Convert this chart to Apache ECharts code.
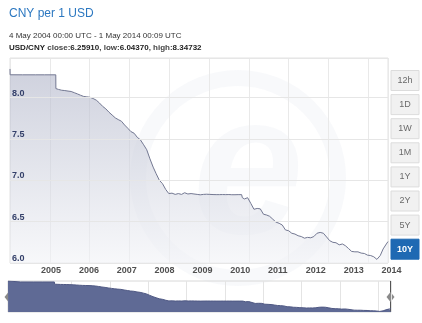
<!DOCTYPE html>
<html>
<head>
<meta charset="utf-8">
<style>
  html, body { margin: 0; padding: 0; background: #ffffff; }
  #chart { width: 422px; height: 323px; }
</style>
<script src="https://cdn.jsdelivr.net/npm/echarts@6/dist/echarts.min.js"></script>
</head>
<body>
<div id="chart"></div>
<script>
// USD/CNY daily closing rate, sampled
const dates = [
  '2004-05-04','2004-05-05','2004-09-01','2005-01-03','2005-04-01','2005-07-20','2005-07-21',
  '2005-08-15','2005-09-15','2005-10-15','2005-11-15','2005-12-15',
  '2006-01-15','2006-02-15','2006-03-15','2006-04-15','2006-05-15','2006-06-15',
  '2006-07-15','2006-08-15','2006-09-15','2006-10-15','2006-11-15','2006-12-15',
  '2007-01-15','2007-02-15','2007-03-15','2007-04-15','2007-05-15','2007-06-15',
  '2007-07-15','2007-08-15','2007-09-15','2007-10-15','2007-11-15','2007-12-15',
  '2008-01-15','2008-02-15','2008-03-15','2008-04-15','2008-05-15','2008-06-15',
  '2008-07-15','2008-08-15','2008-09-15','2008-10-15','2008-11-15','2008-12-15',
  '2009-01-15','2009-02-15','2009-03-15','2009-04-15','2009-05-15','2009-06-15',
  '2009-07-15','2009-08-15','2009-09-15','2009-10-15','2009-11-15','2009-12-15',
  '2010-01-15','2010-02-15','2010-03-15','2010-04-15','2010-05-15','2010-06-18',
  '2010-06-25','2010-07-15','2010-08-15','2010-09-15','2010-10-15','2010-11-15','2010-12-15',
  '2011-01-15','2011-02-15','2011-03-15','2011-04-15','2011-05-15','2011-06-15',
  '2011-07-15','2011-08-15','2011-09-15','2011-10-15','2011-11-15','2011-12-15',
  '2012-01-15','2012-02-15','2012-03-15','2012-04-15','2012-05-15','2012-06-15',
  '2012-07-15','2012-08-15','2012-09-15','2012-10-15','2012-11-15','2012-12-15',
  '2013-01-15','2013-02-15','2013-03-15','2013-04-15','2013-05-15','2013-06-15',
  '2013-07-15','2013-08-15','2013-09-15','2013-10-15','2013-11-15','2013-12-15',
  '2014-01-14','2014-02-15','2014-03-15','2014-04-15','2014-05-01'
];
const rates = [
  8.34732, 8.2770, 8.2766, 8.2765, 8.2765, 8.2765, 8.1100,
  8.1000, 8.0900, 8.0860, 8.0800, 8.0750,
  8.0600, 8.0450, 8.0300, 8.0150, 8.0100, 8.0050,
  7.9900, 7.9700, 7.9350, 7.8950, 7.8650, 7.8250,
  7.7900, 7.7550, 7.7350, 7.7150, 7.6700, 7.6300,
  7.5900, 7.5700, 7.5200, 7.4900, 7.4300, 7.3700,
  7.2600, 7.1600, 7.0800, 7.0000, 6.9600, 6.8900,
  6.8400, 6.8450, 6.8300, 6.8400, 6.8300, 6.8500,
  6.8350, 6.8400, 6.8350, 6.8300, 6.8250, 6.8300,
  6.8320, 6.8300, 6.8280, 6.8270, 6.8270, 6.8280,
  6.8270, 6.8280, 6.8260, 6.8260, 6.8270, 6.8270,
  6.7900, 6.7750, 6.7900, 6.7200, 6.6500, 6.6600, 6.6550,
  6.5900, 6.5800, 6.5650, 6.5300, 6.4950, 6.4800,
  6.4600, 6.4000, 6.3900, 6.3600, 6.3500, 6.3300,
  6.3200, 6.3000, 6.3100, 6.3050, 6.3200, 6.3600,
  6.3700, 6.3600, 6.3150, 6.2700, 6.2500, 6.2450,
  6.2200, 6.2300, 6.2100, 6.1750, 6.1400, 6.1350,
  6.1350, 6.1200, 6.1150, 6.0950, 6.0900, 6.0750,
  6.0437, 6.0900, 6.1700, 6.2300, 6.2591
];
const yTicks = { min: 6.0, max: 8.48, step: 0.5 };
const rangeButtons = ['12h', '1D', '1W', '1M', '1Y', '2Y', '5Y', '10Y'];
const activeRange = '10Y';
const periodText = '4 May 2004 00:00 UTC - 1 May 2014 00:09 UTC';
const pairName = 'USD/CNY';
const stats = { close: '6.25910', low: '6.04370', high: '8.34732' };

const FONT = '"Liberation Sans", Arial, sans-serif';
const YEAR = 365 * 24 * 3600 * 1000;
const points = dates.map((d, i) => [d, rates[i]]);
const startDate = dates[0];
const endDate = dates[dates.length - 1];

// range selector buttons on the right
const buttonGraphics = rangeButtons.map((label, i) => {
  const on = label === activeRange;
  const cy = 80.5 + i * 24.1;
  return {
    type: 'group',
    x: 391, y: cy - 10,
    children: [
      { type: 'rect', shape: { x: 0, y: 0, width: 28, height: 20 },
        style: { fill: on ? '#1f69b3' : '#f1f1f1', stroke: on ? '#1f69b3' : '#dcdcdc', lineWidth: 1 } },
      { type: 'text', x: 14, y: 10,
        style: { text: label, fill: on ? '#ffffff' : '#6a6a6a', font: (on ? 'bold ' : '') + '9px ' + FONT,
                 align: 'center', verticalAlign: 'middle' } }
    ]
  };
});

// navigator handles at both ends
const handleGraphics = [8, 390].map(x => ({
  type: 'group', x: x, y: 0,
  children: [
    { type: 'line', shape: { x1: 0.5, y1: 281, x2: 0.5, y2: 312 }, style: { stroke: '#555', lineWidth: 1 } },
    { type: 'polygon', shape: { points: [[-3.5, 297], [0.5, 292], [4.5, 297], [0.5, 302]] },
      style: { fill: '#8a8a8a' } }
  ]
}));

// faint brand mark behind the plot
const markGraphics = [
  { type: 'circle', shape: { cx: 238, cy: 178, r: 100 }, z: -1,
    style: { fill: 'none', stroke: 'rgba(200,205,222,0.13)', lineWidth: 16 } },
  { type: 'text', x: 248, y: 178, z: -1,
    style: { text: 'e', font: 'italic bold 200px ' + FONT, fill: 'rgba(200,205,222,0.13)',
             align: 'center', verticalAlign: 'middle' } }
];

const chart = echarts.init(document.getElementById('chart'), null, { renderer: 'canvas' });
chart.setOption({
  animation: false,
  backgroundColor: '#ffffff',
  title: [
    { text: 'CNY per 1 USD', left: 9, top: 8, padding: 0,
      textStyle: { fontFamily: FONT, fontSize: 12, fontWeight: 'normal', color: '#2b77c0' } },
    { text: periodText, left: 9, top: 32, padding: 0,
      textStyle: { fontFamily: FONT, fontSize: 8, fontWeight: 'normal', color: '#333333' } },
    { text: '{b|' + pairName + '} {n|close:}{v|' + stats.close + '}{n|, low:}{v|' + stats.low +
            '}{n|, high:}{v|' + stats.high + '}',
      left: 9, top: 44, padding: 0,
      textStyle: { fontFamily: FONT, fontSize: 8, color: '#333333',
        rich: {
          b: { fontFamily: FONT, fontSize: 8, fontWeight: 'bold', color: '#222222' },
          n: { fontFamily: FONT, fontSize: 8, color: '#444444' },
          v: { fontFamily: FONT, fontSize: 8, color: '#222222' }
        } } }
  ],
  grid: [
    { left: 10, right: 34, top: 58, height: 205, show: true, borderColor: '#e2e2e2', borderWidth: 1 },
    { left: 8, right: 31, top: 281, height: 31, show: true, borderColor: '#d8d8d8', borderWidth: 1 }
  ],
  xAxis: [
    { type: 'time', gridIndex: 0, min: startDate, max: endDate,
      minInterval: YEAR, maxInterval: YEAR * 1.01,
      axisLine: { show: false }, axisTick: { show: false }, splitLine: { show: false },
      axisLabel: { formatter: '{yyyy}', fontFamily: FONT, fontSize: 9, fontWeight: 'bold', color: '#505050',
                   align: 'left', padding: [0, 0, 0, 6], margin: 3, showMinLabel: false, showMaxLabel: false } },
    // background grid pattern of the plot
    { type: 'value', gridIndex: 0, position: 'top', min: 0, max: 9.497, interval: 1,
      axisLine: { show: false }, axisTick: { show: false }, axisLabel: { show: false },
      splitLine: { show: true, lineStyle: { color: '#e9e9e9', width: 1 } } },
    { type: 'time', gridIndex: 1, min: startDate, max: endDate,
      minInterval: YEAR, maxInterval: YEAR * 1.01,
      axisLine: { show: false }, axisTick: { show: false }, axisLabel: { show: false },
      splitLine: { show: true, lineStyle: { color: '#e4e4e4', width: 1 } } }
  ],
  yAxis: [
    { type: 'value', gridIndex: 0, min: yTicks.min, max: yTicks.max, interval: yTicks.step, z: 6,
      axisLine: { show: false }, axisTick: { show: false },
      splitLine: { lineStyle: { color: '#e6e6e6', width: 1 } },
      axisLabel: { inside: true, margin: 2, verticalAlign: 'bottom', showMaxLabel: false,
                   formatter: v => v.toFixed(1),
                   fontFamily: FONT, fontSize: 9, fontWeight: 'bold', color: '#34406a' } },
    { type: 'value', gridIndex: 1, min: 6.0, max: 8.35,
      axisLine: { show: false }, axisTick: { show: false }, axisLabel: { show: false },
      splitLine: { show: false } }
  ],
  graphic: markGraphics.concat(buttonGraphics, handleGraphics),
  series: [
    { type: 'line', xAxisIndex: 0, yAxisIndex: 0, data: points, showSymbol: false, z: 3,
      lineStyle: { color: '#737892', width: 1 },
      areaStyle: { color: new echarts.graphic.LinearGradient(0, 0, 0, 1, [
        { offset: 0, color: 'rgba(180,184,203,0.92)' },
        { offset: 0.5, color: 'rgba(208,211,223,0.85)' },
        { offset: 1, color: 'rgba(242,243,247,0.85)' }
      ]) } },
    { type: 'line', xAxisIndex: 2, yAxisIndex: 1, data: points, showSymbol: false,
      lineStyle: { color: '#4f5883', width: 1 },
      areaStyle: { color: '#5f6a95', opacity: 1 } }
  ]
});
</script>
</body>
</html>
